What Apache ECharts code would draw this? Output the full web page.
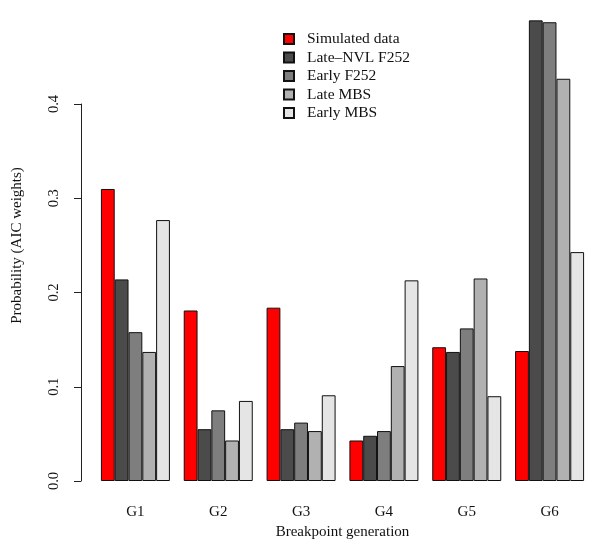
<!DOCTYPE html>
<html>
<head>
<meta charset="utf-8">
<script src="https://cdn.jsdelivr.net/npm/echarts@6/dist/echarts.min.js"></script>
<style>html,body{margin:0;padding:0;background:#fff}#c{width:600px;height:558px}</style>
</head>
<body>
<div id="c"></div>
<script>
var categories = ['G1', 'G2', 'G3', 'G4', 'G5', 'G6'];
var seriesNames = ['Simulated data', 'Late\u2013NVL F252', 'Early F252', 'Late MBS', 'Early MBS'];
var simulated = [0.310, 0.181, 0.184, 0.043, 0.142, 0.138];
var lateNVL = [0.214, 0.055, 0.055, 0.048, 0.137, 0.489];
var earlyF252 = [0.158, 0.075, 0.062, 0.053, 0.162, 0.487];
var lateMBS = [0.137, 0.043, 0.053, 0.122, 0.215, 0.427];
var earlyMBS = [0.277, 0.085, 0.091, 0.213, 0.090, 0.243];
var yTicks = [0, 0.1, 0.2, 0.3, 0.4];

var colors = ['#ff0000', '#4b4b4b', '#7e7e7e', '#b1b1b1', '#e5e5e5'];
var values = [simulated, lateNVL, earlyF252, lateMBS, earlyMBS];
var font = '"Liberation Serif", "DejaVu Serif", serif';

var chart = echarts.init(document.getElementById('c'), null, {renderer: 'canvas'});
var series = seriesNames.map(function (n, i) {
  return {
    name: n, type: 'bar', xAxisIndex: 0, yAxisIndex: 0,
    data: values[i],
    barGap: '0%', barCategoryGap: '16.7%',
    itemStyle: {color: colors[i], borderColor: '#111', borderWidth: 1},
    emphasis: {disabled: true},
    animation: false
  };
});
chart.setOption({
  backgroundColor: '#fff',
  animation: false,
  textStyle: {fontFamily: font, color: '#111'},
  legend: {
    orient: 'vertical', left: 283, top: 31, padding: 0,
    itemWidth: 10, itemHeight: 10, itemGap: 2.5, icon: 'rect',
    textStyle: {fontFamily: font, fontSize: 15.5, color: '#111', padding: [0, 0, 0, 8]},
    data: seriesNames
  },
  grid: [
    {left: 94, top: 10, width: 497, height: 471},
    {left: 94, top: 104, width: 497, height: 377}
  ],
  xAxis: [
    {type: 'category', gridIndex: 0, data: categories,
     axisLine: {show: false}, axisTick: {show: false},
     axisLabel: {margin: 24, fontSize: 15, color: '#111', fontFamily: font},
     name: 'Breakpoint generation', nameLocation: 'middle', nameGap: 44,
     nameTextStyle: {fontSize: 15, color: '#111', fontFamily: font}},
    {type: 'category', gridIndex: 1, data: categories, show: false}
  ],
  yAxis: [
    {type: 'value', gridIndex: 0, min: 0, max: 0.5, offset: 13,
     axisLine: {show: false}, axisTick: {show: false}, axisLabel: {show: false},
     splitLine: {show: false},
     name: 'Probability (AIC weights)', nameLocation: 'middle', nameGap: 56,
     nameTextStyle: {fontSize: 15, color: '#111', fontFamily: font}},
    {type: 'value', gridIndex: 1, min: yTicks[0], max: yTicks[yTicks.length - 1], interval: 0.1,
     offset: 13,
     axisLine: {show: true, lineStyle: {color: '#222', width: 1}},
     axisTick: {show: true, length: 7, lineStyle: {color: '#222'}},
     splitLine: {show: false},
     axisLabel: {rotate: 90, margin: 19, fontSize: 14.5, color: '#111', fontFamily: font,
                 formatter: function (v) { return v.toFixed(1); }}}
  ],
  series: series
});
</script>
</body>
</html>
